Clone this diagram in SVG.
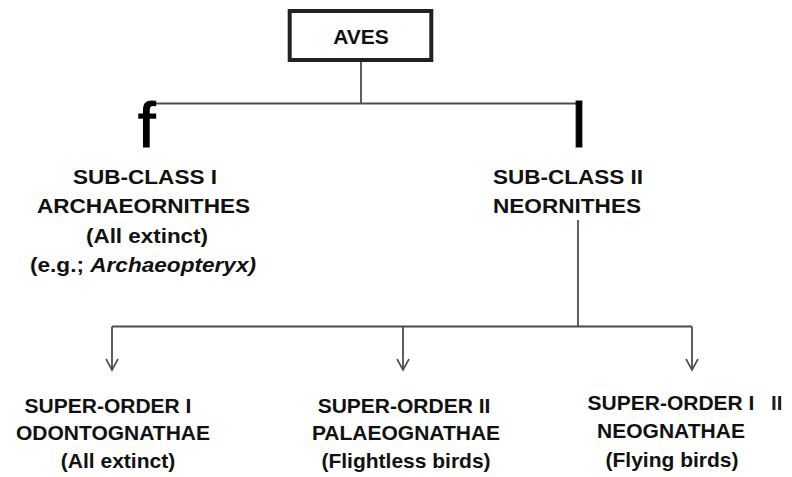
<svg xmlns="http://www.w3.org/2000/svg" width="792" height="477" viewBox="0 0 792 477">
  <style>
    .t { font-family: "Liberation Sans", Arial, sans-serif; font-weight: bold; fill: #111; }
    .up { font-size: 21px; }
    .lo { font-size: 21px; }
    .c { text-anchor: middle; }
    .conn { stroke: #4d4d4d; stroke-width: 1.8; fill: none; }
    .glyph { font-family: "Liberation Sans", Arial, sans-serif; font-size: 63px; fill: #000; stroke: #000; stroke-width: 1.2; }
  </style>
  <defs>
    <marker id="arr" viewBox="0 0 14 14" refX="12" refY="7" markerWidth="14" markerHeight="14" markerUnits="userSpaceOnUse" orient="auto">
      <path d="M1,1 L12,7 L1,13" fill="none" stroke="#4d4d4d" stroke-width="1.6"/>
    </marker>
    <filter id="blur" x="-50%" y="-50%" width="200%" height="200%">
      <feGaussianBlur stdDeviation="0.6"/>
    </filter>
  </defs>
  <rect width="792" height="477" fill="#fff"/>

  <g id="connectors">
    <line class="conn" x1="361" y1="62" x2="361" y2="103.5"/>
    <line class="conn" x1="154" y1="103.5" x2="576" y2="103.5"/>
    <line class="conn" x1="578" y1="220" x2="578" y2="326.5"/>
    <line class="conn" x1="112" y1="326.5" x2="692" y2="326.5"/>
    <line class="conn" x1="112" y1="326.5" x2="112" y2="370" marker-end="url(#arr)"/>
    <line class="conn" x1="403" y1="326.5" x2="403" y2="370" marker-end="url(#arr)"/>
    <line class="conn" x1="692" y1="326.5" x2="692" y2="370" marker-end="url(#arr)"/>
    <text class="glyph" x="138" y="147">f</text>
    <text class="glyph" x="572" y="147">l</text>
  </g>

  <g id="aves">
    <rect x="289.7" y="11" width="141.6" height="49" fill="#fff" stroke="#222" stroke-width="4"/>
    <text class="t c" x="361" y="44" font-size="21">AVES</text>
  </g>

  <g id="subclass1">
    <text class="t up c" x="145" y="184" textLength="144" lengthAdjust="spacingAndGlyphs">SUB-CLASS I</text>
    <text class="t up c" x="143.5" y="213" textLength="213" lengthAdjust="spacingAndGlyphs">ARCHAEORNITHES</text>
    <text class="t up c" x="147" y="243" textLength="122" lengthAdjust="spacingAndGlyphs">(All extinct)</text>
    <text class="t up c" x="143" y="272" textLength="226" lengthAdjust="spacingAndGlyphs">(e.g.; <tspan font-style="italic">Archaeopteryx)</tspan></text>
  </g>

  <g id="subclass2">
    <text class="t up" x="493" y="184" textLength="150" lengthAdjust="spacingAndGlyphs">SUB-CLASS II</text>
    <text class="t up" x="493" y="213" textLength="148" lengthAdjust="spacingAndGlyphs">NEORNITHES</text>
  </g>

  <g id="superorder1">
    <text class="t lo c" x="108" y="413">SUPER-ORDER I</text>
    <text class="t lo c" x="113" y="440">ODONTOGNATHAE</text>
    <text class="t lo c" x="118" y="468">(All extinct)</text>
  </g>

  <g id="superorder2">
    <text class="t lo c" x="404" y="413">SUPER-ORDER II</text>
    <text class="t lo c" x="406" y="440">PALAEOGNATHAE</text>
    <text class="t lo c" x="406" y="468">(Flightless birds)</text>
  </g>

  <g id="superorder3">
    <text class="t lo c" x="671" y="410">SUPER-ORDER I</text>
    <text class="t lo" x="771" y="410" filter="url(#blur)" style="fill:#222">II</text>
    <text class="t lo c" x="671" y="438">NEOGNATHAE</text>
    <text class="t lo c" x="672" y="467">(Flying birds)</text>
  </g>
</svg>
